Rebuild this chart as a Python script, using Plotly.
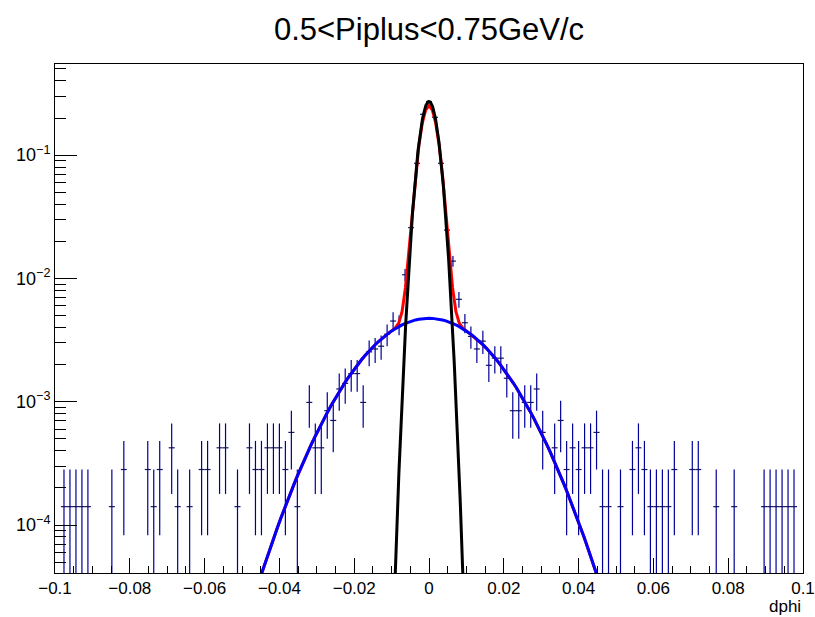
import numpy as np
import plotly.graph_objects as go

# histogram: 125 bins on [-0.1, 0.1], raw entries per bin
n_bins = 125
x_min, x_max = -0.1, 0.1
counts = [
    0, 1, 1, 1, 1, 1, 0, 0, 0, 1,
    0, 2, 0, 0, 0, 2, 1, 2, 0, 3,
    1, 0, 1, 0, 2, 2, 0, 3, 3, 0,
    1, 0, 3, 2, 2, 3, 3, 3, 2, 4,
    1, 0, 7, 3, 3, 6, 5, 9, 10, 12,
    12, 7, 18, 19, 20, 25, 32, 30, 76, 183,
    609, 1520, 1930, 1437, 609, 175, 98, 48, 31, 24,
    19, 22, 14, 16, 16, 11, 6, 6, 7, 7,
    9, 4, 0, 3, 5, 2, 3, 2, 3, 3,
    4, 1, 1, 0, 1, 0, 2, 3, 2, 1,
    1, 1, 1, 2, 0, 0, 2, 2, 0, 0,
    1, 0, 0, 1, 0, 0, 0, 0, 1, 1,
    1, 1, 1, 1, 0,
]
norm = 1.41e-4  # weight of one entry after normalisation

# fit parameters (amplitude, mean, sigma)
bkg_par = [4.75e-3, 0.0, 0.0145]      # wide gaussian (blue)
sig_par = [0.272, 0.0, 0.00216]       # narrow gaussian (black)
tot_sig_par = [0.247, 0.0, 0.0022]    # narrow part of the total fit (red)
fit_range = [-0.045, 0.045]
sig_range = [-0.01, 0.01]

y_tick_vals = [1e-4, 1e-3, 1e-2, 1e-1]
y_tick_text = ["10<sup>\u22124</sup>", "10<sup>\u22123</sup>",
               "10<sup>\u22122</sup>", "10<sup>\u22121</sup>"]
x_tick_vals = [-0.1, -0.08, -0.06, -0.04, -0.02, 0, 0.02, 0.04, 0.06, 0.08, 0.1]
x_tick_text = ["\u22120.1", "\u22120.08", "\u22120.06", "\u22120.04", "\u22120.02",
               "0", "0.02", "0.04", "0.06", "0.08", "0.1"]


def gaus(x, p):
    return p[0] * np.exp(-0.5 * ((x - p[1]) / p[2]) ** 2)


counts = np.array(counts, dtype=float)
bw = (x_max - x_min) / n_bins
centers = x_min + bw * (np.arange(n_bins) + 0.5)
filled = counts > 0
vals = counts[filled] * norm
errs = np.sqrt(counts[filled]) * norm

FONT = "Liberation Sans, Arial, Helvetica, sans-serif"
HIST_COL = "#000099"

fig = go.Figure()

fig.add_trace(go.Scatter(
    x=centers[filled], y=vals, mode="markers",
    marker=dict(size=1, color=HIST_COL),
    error_y=dict(type="data", array=errs, arrayminus=errs, width=0,
                 thickness=1.2, color=HIST_COL),
    error_x=dict(type="constant", value=bw / 2, width=0,
                 thickness=1.2, color="#15155e"),
    hoverinfo="skip", showlegend=False,
))

# total fit, sampled like ROOT's TF1 (100 steps over the fit range)
xt = np.linspace(fit_range[0], fit_range[1], 101)
fig.add_trace(go.Scatter(x=xt, y=gaus(xt, tot_sig_par) + gaus(xt, bkg_par),
                         mode="lines", line=dict(color="#ff0000", width=3),
                         hoverinfo="skip", showlegend=False))
fig.add_trace(go.Scatter(x=xt, y=gaus(xt, bkg_par),
                         mode="lines", line=dict(color="#0000ff", width=3),
                         hoverinfo="skip", showlegend=False))
xs = np.linspace(sig_range[0], sig_range[1], 201)
fig.add_trace(go.Scatter(x=xs, y=gaus(xs, sig_par),
                         mode="lines", line=dict(color="#000000", width=3),
                         hoverinfo="skip", showlegend=False))

y_minor = [m * 10.0 ** e for e in range(-5, 0) for m in range(2, 10)]

fig.update_layout(
    width=815, height=617,
    margin=dict(l=55, r=12, t=64, b=44, autoexpand=False),
    paper_bgcolor="white", plot_bgcolor="white",
    font=dict(family=FONT, size=17, color="black"),
    title=dict(text="0.5&lt;Piplus&lt;0.75GeV/c", x=0.5, xref="paper",
               xanchor="center", y=1 - 29 / 617, yref="container",
               yanchor="middle", font=dict(size=31)),
    showlegend=False,
)

fig.update_xaxes(
    range=[x_min, x_max], showgrid=False, zeroline=False, automargin=False,
    showline=True, linecolor="black", linewidth=1, mirror=True,
    tickmode="array", tickvals=x_tick_vals, ticktext=x_tick_text,
    ticks="inside", ticklen=15, tickcolor="black", tickwidth=1,
    tickfont=dict(size=17),
    minor=dict(dtick=0.005, tick0=0, ticks="inside", ticklen=7,
               tickcolor="black", tickwidth=1, showgrid=False),
)
fig.update_yaxes(
    type="log", range=[-4.389, -0.261], showgrid=False, zeroline=False,
    automargin=False,
    showline=True, linecolor="black", linewidth=1, mirror=True,
    tickmode="array", tickvals=y_tick_vals, ticktext=y_tick_text,
    ticks="inside", ticklen=22, tickcolor="black", tickwidth=1,
    tickfont=dict(size=18),
    minor=dict(tickmode="array", tickvals=y_minor, ticks="inside", ticklen=11,
               tickcolor="black", tickwidth=1, showgrid=False),
)

fig.add_annotation(text="dphi", xref="paper", yref="paper", x=1, y=-0.065,
                   xanchor="right", yanchor="middle", showarrow=False,
                   font=dict(size=17))

# page sits at the window corner, no scrollbars, no modebar
fig.write_html(
    "out.html",
    config={"displayModeBar": False},
    post_script="document.body.style.margin='0px';"
                "document.body.style.overflow='hidden';"
                "document.documentElement.style.overflow='hidden';",
)
